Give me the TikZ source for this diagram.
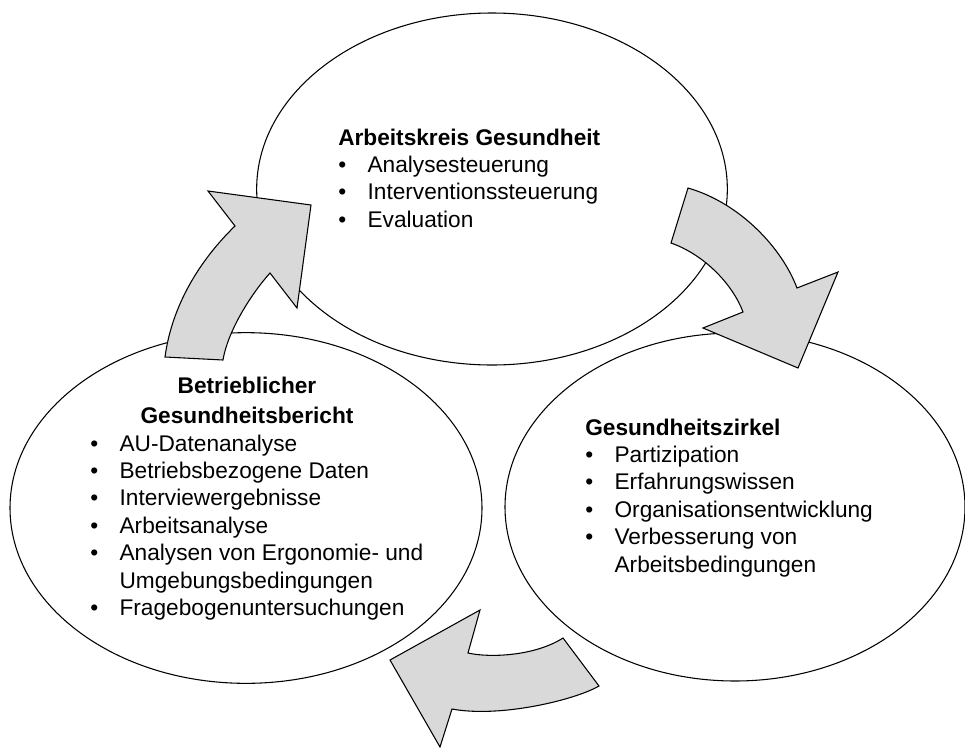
\documentclass[tikz,border=0pt]{standalone}
\usepackage{fontspec}
\setmainfont{Liberation Sans}
\usetikzlibrary{shapes.geometric}
\definecolor{arrowgray}{HTML}{D9D9D9}
\newcommand{\bul}[1]{\makebox[22pt][l]{\textbullet}#1}
\tikzset{
	bubble/.style={draw, ellipse, line width=0.8pt, inner sep=0pt},
	blockarrow/.style={draw, fill=arrowgray, line width=0.8pt, line join=miter},
	txt/.style={inner sep=0pt, font=\fontsize{17}{20.6}\selectfont}
}

\begin{document}
\begin{tikzpicture}[x=0.75pt, y=-0.75pt]
	%%%%% START %%%%%
	\useasboundingbox (0,0) rectangle (965,747);
	
	\node[bubble, minimum width=353pt, minimum height=264pt] (ak) at (492,189) {};
	\node[bubble, minimum width=354pt, minimum height=263pt] (bgb) at (246,508) {};
	\node[bubble, minimum width=345pt, minimum height=261pt] (gz) at (735,507) {};
	
	% curved block arrows
	\draw[blockarrow] (165,357) .. controls (172,305) and (200,260) .. (235,226) -- (208,191) -- (311,205) -- (297,308) -- (270,273) .. controls (252,293) and (228,330) .. (223,360) -- cycle;
	\draw[blockarrow] (688,188) .. controls (740,203) and (782,248) .. (797,288) -- (838,272) -- (798,368) -- (703,328) -- (743,312) .. controls (733,285) and (705,255) .. (671,243) -- cycle;
	\draw[blockarrow] (599,686) .. controls (575,700) and (500,718) .. (452,709) -- (440,747) -- (390,660) -- (480,610) -- (468,653) .. controls (490,658) and (535,656) .. (563,638) -- cycle;
	
	\node[txt, anchor=base west] (akText) at (338,145) {\begin{tabular}[t]{@{}l@{}}
		\textbf{Arbeitskreis Gesundheit}\\
		\bul{Analysesteuerung}\\
		\bul{Interventionssteuerung}\\
		\bul{Evaluation}
	\end{tabular}};
	
	\node[txt, anchor=base west] (gzText) at (585,435) {\begin{tabular}[t]{@{}l@{}}
		\textbf{Gesundheitszirkel}\\
		\bul{Partizipation}\\
		\bul{Erfahrungswissen}\\
		\bul{Organisationsentwicklung}\\
		\bul{Verbesserung von}\\
		\hspace*{22pt}Arbeitsbedingungen
	\end{tabular}};
	
	\node[txt, anchor=base] (bgbTitle) at (247,393) {\begin{tabular}[t]{@{}c@{}}
		\textbf{Betrieblicher}\\[2pt]
		\textbf{Gesundheitsbericht}
	\end{tabular}};
	\node[txt, anchor=base west] (bgbText) at (90,451) {\begin{tabular}[t]{@{}l@{}}
		\bul{AU-Datenanalyse}\\
		\bul{Betriebsbezogene Daten}\\
		\bul{Interviewergebnisse}\\
		\bul{Arbeitsanalyse}\\
		\bul{Analysen von Ergonomie- und}\\
		\hspace*{22pt}Umgebungsbedingungen\\
		\bul{Fragebogenuntersuchungen}
	\end{tabular}};
	%%%%% END %%%%%
\end{tikzpicture}
\end{document}
